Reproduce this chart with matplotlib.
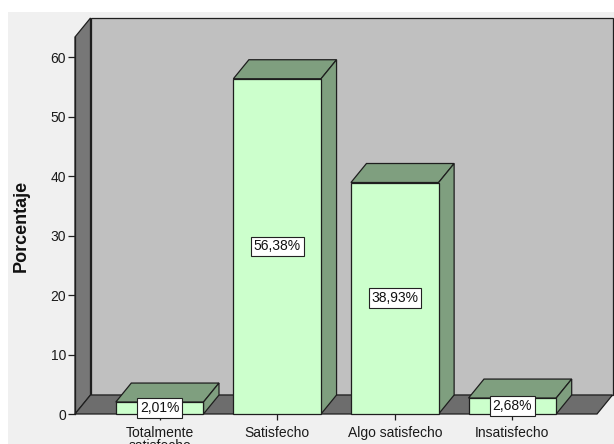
import matplotlib.pyplot as plt
from matplotlib.patches import Polygon, Rectangle

plt.rcParams['font.family'] = ['Liberation Sans', 'DejaVu Sans']

# Datos de satisfacción
categorias = ["Totalmente\nsatisfecho", "Satisfecho", "Algo satisfecho", "Insatisfecho"]
porcentajes = [2.01, 56.38, 38.93, 2.68]
etiquetas = ["2,01%", "56,38%", "38,93%", "2,68%"]
yticks = [0, 10, 20, 30, 40, 50, 60]

# Colores estilo SPSS
c_frente = "#ccffcc"
c_lado = "#7f9f7f"
c_fondo = "#c0c0c0"
c_pared = "#777777"
c_suelo = "#6d6d6d"
c_borde = "#1e1e1e"

fig = plt.figure(figsize=(6.14, 4.44), dpi=100)
fig.patch.set_facecolor("white")
fig.add_artist(Rectangle((8 / 614, 0), 1, 432 / 444, transform=fig.transFigure,
                         facecolor="#f0f0f0", edgecolor="none", zorder=-10))

ax = fig.add_axes([75 / 614, 30 / 444, 522 / 614, 377 / 444])
ax.patch.set_visible(False)
x0, x1 = -0.72, 3.72
y0, y1 = 0, 63.4
ax.set_xlim(x0, x1)
ax.set_ylim(y0, y1)

# profundidad del efecto 3D (en píxeles -> unidades de datos)
dx = (x1 - x0) * 15.5 / 522
dy = (y1 - y0) * 19 / 377

kw = dict(edgecolor=c_borde, linewidth=0.9, clip_on=False, joinstyle="miter")

# pared del fondo, pared lateral y suelo
ax.add_patch(Polygon([(x0 + dx, dy), (x1 + dx, dy), (x1 + dx, y1 + dy), (x0 + dx, y1 + dy)],
                     facecolor=c_fondo, zorder=1, **kw))
ax.add_patch(Polygon([(x0, 0), (x0 + dx, dy), (x0 + dx, y1 + dy), (x0, y1)],
                     facecolor=c_pared, zorder=1, **kw))
ax.add_patch(Polygon([(x0, 0), (x1, 0), (x1 + dx, dy), (x0 + dx, dy)],
                     facecolor=c_suelo, zorder=1, **kw))

ancho = 88 / 118
for i, (v, lbl) in enumerate(zip(porcentajes, etiquetas)):
    a, b = i - ancho / 2, i + ancho / 2
    # cara superior y lateral
    ax.add_patch(Polygon([(a, v), (b, v), (b + dx, v + dy), (a + dx, v + dy)],
                         facecolor=c_lado, zorder=2, **kw))
    ax.add_patch(Polygon([(b, 0), (b + dx, dy), (b + dx, v + dy), (b, v)],
                         facecolor=c_lado, zorder=2, **kw))
    # cara frontal
    ax.add_patch(Polygon([(a, 0), (b, 0), (b, v), (a, v)],
                         facecolor=c_frente, zorder=3, **kw))
    ax.text(i, v / 2, lbl, ha="center", va="center", fontsize=10, color="#111111", zorder=5,
            bbox=dict(boxstyle="square,pad=0.2", facecolor="white", edgecolor="#222222", linewidth=0.8))

for s in ["top", "right", "bottom"]:
    ax.spines[s].set_visible(False)
ax.spines["left"].set_color(c_borde)
ax.spines["left"].set_linewidth(0.9)
ax.spines["left"].set_zorder(4)

ax.set_yticks(yticks)
ax.set_xticks(range(len(categorias)))
ax.set_xticklabels(categorias, linespacing=0.9)
ax.tick_params(axis="y", direction="out", length=5, width=0.9, pad=1.5,
               labelsize=10, color=c_borde, labelcolor="#1a1a1a")
ax.tick_params(axis="x", direction="out", length=4.5, width=0.9, pad=4,
               labelsize=10, color=c_borde, labelcolor="#1a1a1a")

ax.set_ylabel("Porcentaje", fontsize=13, fontweight="bold", color="#111111")
ax.yaxis.set_label_coords(-0.086, 0.5)

fig.savefig("out.png", dpi=100)
